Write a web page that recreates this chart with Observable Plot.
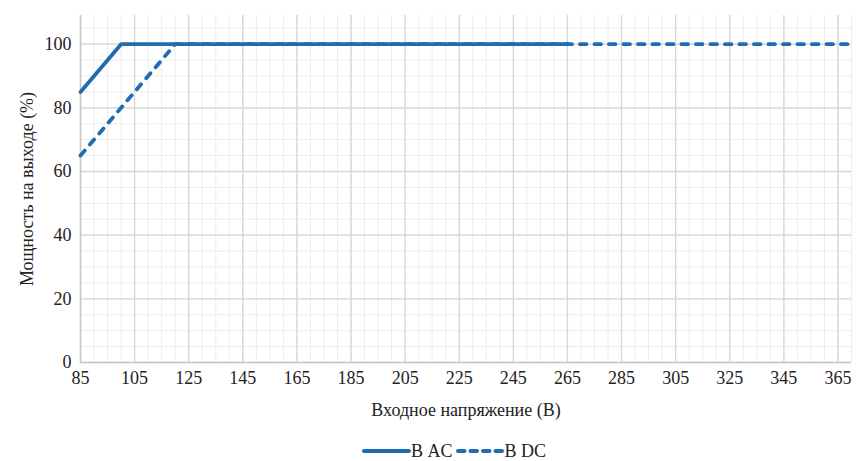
<!DOCTYPE html>
<html><head><meta charset="utf-8">
<script src="https://cdn.jsdelivr.net/npm/d3@7"></script>
<script src="https://cdn.jsdelivr.net/npm/@observablehq/plot@0.6"></script>
<style>
body{margin:0;background:#fff;font-family:'Liberation Serif',serif;}
#legend{display:flex;justify-content:center;align-items:center;font-size:18px;color:#222;height:26px;margin-left:50px;margin-top:6px}
#legend span{margin-right:2px}
</style></head><body>
<div id="chart"></div>
<div id="legend"></div>
<script>
const acVoltage = [85, 100, 265];
const acPower = [85, 100, 100];
const dcVoltage = [85, 120, 370];
const dcPower = [65, 100, 100];
const xTicks = [85,105,125,145,165,185,205,225,245,265,285,305,325,345,365];
const yTicks = [0,20,40,60,80,100];
const xMinor = d3.range(90, 371, 5);
const yMinor = d3.range(5, 110, 5);
const seriesNames = ["В AC", "В DC"];
const color = "#1f6db0";
const serif = "'Liberation Serif', serif";

const ac = acVoltage.map((v,i)=>({v, p: acPower[i]}));
const dc = dcVoltage.map((v,i)=>({v, p: dcPower[i]}));

const plot = Plot.plot({
  width: 859, height: 432,
  marginLeft: 80, marginRight: 8, marginTop: 15, marginBottom: 70,
  style: {fontFamily: serif, fontSize: "18px", color: "#222", background: "#fff"},
  x: {domain: [85, 370]},
  y: {domain: [0, 109]},
  marks: [
    Plot.ruleX(xMinor, {stroke: "#ececec", strokeWidth: 1}),
    Plot.ruleY(yMinor, {stroke: "#ececec", strokeWidth: 1}),
    Plot.ruleX(xTicks, {stroke: "#d6d6d6", strokeWidth: 1.3}),
    Plot.ruleY(yTicks, {stroke: "#d6d6d6", strokeWidth: 1.3}),
    Plot.ruleX([85], {stroke: "#c8c8c8", strokeWidth: 1.5}),
    Plot.ruleY([0], {stroke: "#c8c8c8", strokeWidth: 1.5}),
    Plot.axisX({ticks: xTicks, tickSize: 0, tickPadding: 9, fontSize: 18, fontFamily: serif,
      label: "Входное напряжение (В)", labelAnchor: "center", labelArrow: "none", labelOffset: 53}),
    Plot.axisY({ticks: yTicks, tickSize: 0, tickPadding: 9, fontSize: 18, fontFamily: serif,
      label: "Мощность на выходе (%)", labelAnchor: "center", labelArrow: "none", labelOffset: 60}),
    Plot.line(dc, {x: "v", y: "p", stroke: color, strokeWidth: 3.8, strokeDasharray: "6.5,8", strokeLinecap: "round"}),
    Plot.line(ac, {x: "v", y: "p", stroke: color, strokeWidth: 3.8})
  ]
});
document.getElementById("chart").appendChild(plot);

const lg = document.getElementById("legend");
const mk = (dash, name) => {
  const s = document.createElementNS("http://www.w3.org/2000/svg","svg");
  s.setAttribute("width", 50); s.setAttribute("height", 10);
  const l = document.createElementNS("http://www.w3.org/2000/svg","line");
  l.setAttribute("x1", 3); l.setAttribute("x2", 48); l.setAttribute("y1", 5); l.setAttribute("y2", 5);
  l.setAttribute("stroke", color); l.setAttribute("stroke-width", 4); l.setAttribute("stroke-linecap","round");
  if (dash) l.setAttribute("stroke-dasharray", "6.5,6");
  s.appendChild(l); lg.appendChild(s);
  const t = document.createElement("span"); t.textContent = name; lg.appendChild(t);
};
mk(false, seriesNames[0]);
mk(true, seriesNames[1]);
</script>
</body></html>
